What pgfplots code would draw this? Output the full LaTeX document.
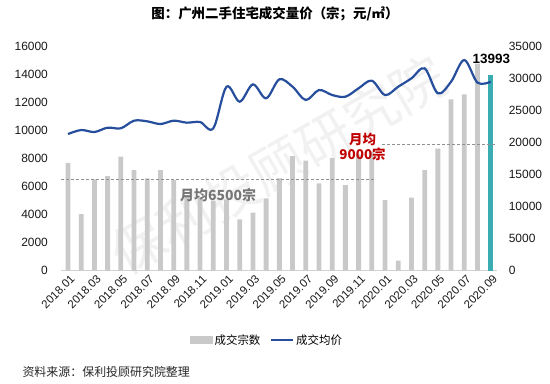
\documentclass[border=0pt]{standalone}
\usepackage{fontspec}
\setmainfont{Liberation Sans}
\newfontfamily\cjk{Noto Sans CJK SC}
\usepackage{pgfplots}
\pgfplotsset{compat=1.18}
\definecolor{barcol}{RGB}{201,201,201}
\definecolor{tealcol}{RGB}{58,172,178}
\definecolor{linecol}{RGB}{38,78,156}
\definecolor{redcol}{RGB}{192,0,0}
\definecolor{txtgray}{RGB}{118,118,118}
\begin{document}
\begin{tikzpicture}
\useasboundingbox (0,0) rectangle (550bp,-384bp);
\node[rotate=30, text=gray, opacity=0.11, font=\cjk\fontsize{54}{60}\selectfont] at (278bp,-165bp) {保利投顾研究院};
\node[font=\cjk\bfseries\fontsize{13.5}{16}\selectfont] at (275bp,-14bp) {图：广州二手住宅成交量价（宗；元/㎡）};
\node[anchor=west, font=\cjk\fontsize{12}{14}\selectfont, text=black!85] at (19bp,-372bp) {资料来源：保利投顾研究院整理};
% left axis: bars
\begin{axis}[
  at={(61.4bp,-270.7bp)}, anchor=south west,
  scale only axis, width=435.9bp, height=224bp,
  xmin=-0.5, xmax=32.5, ymin=0, ymax=16000,
  ytick={0,2000,...,16000},
  xtick={0,2,...,32},
  xticklabels={2018.01,2018.03,2018.05,2018.07,2018.09,2018.11,2019.01,2019.03,2019.05,2019.07,2019.09,2019.11,2020.01,2020.03,2020.05,2020.07,2020.09},
  axis lines*=left,
  y axis line style={draw=none},
  x axis line style={draw=black!18, line width=0.8bp},
  major tick length=0pt,
  /pgf/number format/assume math mode=true,
  /pgf/number format/1000 sep={},
  scaled y ticks=false,
  yticklabel style={font=\fontsize{12}{14}\selectfont, text=black!90, xshift=-10bp},
  xticklabel style={font=\fontsize{11.5}{13}\selectfont, text=black!90, xshift=7bp, yshift=-4bp, rotate=45, anchor=east},
  clip=false,
]
\addplot[ybar, bar width=4.8bp, bar shift=0pt, fill=barcol, draw=none] coordinates {
(0,7700) (1,4050) (2,6530) (3,6760) (4,8140) (5,7190) (6,6600) (7,7190) (8,6480)
(9,5400) (10,5200) (11,5000) (12,5100) (13,3670) (14,4140) (15,5170) (16,6600)
(17,8190) (18,7860) (19,6240) (20,8040) (21,6120) (22,8300) (23,8500) (24,5050)
(25,714) (26,5220) (27,7190) (28,8720) (29,12240) (30,12600) (31,14800)};
\addplot[ybar, bar width=4.8bp, bar shift=0pt, fill=tealcol, draw=none] coordinates {(32,13993)};
\draw[txtgray!80, dashed, dash pattern=on 3bp off 2bp, line width=0.8bp] (axis cs:-0.5,6500) -- (axis cs:23.3,6500);
\draw[txtgray!80, dashed, dash pattern=on 3bp off 2bp, line width=0.8bp] (axis cs:23.8,9000) -- (axis cs:32.5,9000);
\node[font=\cjk\bfseries\fontsize{14}{16}\selectfont, text=txtgray] at (axis cs:11.36,5407) {月均6500宗};
\node[font=\cjk\bfseries\fontsize{13.5}{15.5}\selectfont, text=redcol, align=center] at (axis cs:22.3,8836) {月均\\9000宗};
\node[font=\bfseries\fontsize{13.5}{16}\selectfont, text=black] at (axis cs:32.05,15114) {13993};
\end{axis}
% right axis: line
\begin{axis}[
  at={(61.4bp,-270.7bp)}, anchor=south west,
  scale only axis, width=435.9bp, height=224bp,
  xmin=-0.5, xmax=32.5, ymin=0, ymax=35000,
  ytick={0,5000,...,35000},
  axis x line=none,
  axis y line*=right,
  y axis line style={draw=none},
  major tick length=0pt,
  /pgf/number format/assume math mode=true,
  /pgf/number format/1000 sep={},
  scaled y ticks=false,
  yticklabel style={font=\fontsize{12}{14}\selectfont, text=black!90, xshift=8bp},
  clip=false,
  legend style={at={(0.472,-0.309)}, anchor=center, draw=none, fill=none,
    legend columns=2, font=\cjk\fontsize{11.5}{13}\selectfont,
    /tikz/every even column/.append style={column sep=8bp}},
]
\addlegendimage{legend image code/.code={\fill[barcol] (0bp,-3.5bp) rectangle (22bp,3.5bp);}}
\addlegendentry{成交宗数}
\addplot[color=linecol, line width=2.2bp, smooth, tension=0.55,
  legend image code/.code={\draw[linecol, line width=1.8bp] (0bp,0bp) -- (22bp,0bp);}] coordinates {
(0,21360) (1,21980) (2,21670) (3,22350) (4,22250) (5,23440) (6,23340) (7,22920)
(8,23440) (9,23130) (10,23230) (11,22250) (12,28750) (13,26410) (14,29110)
(15,26940) (16,29900) (17,28750) (18,26670) (19,28230) (20,27450) (21,27190)
(22,28500) (23,29690) (24,27450) (25,28750) (26,30060) (27,31620) (28,27710)
(29,29530) (30,32920) (31,29380) (32,29530)};
\addlegendentry{成交均价}
\end{axis}
\end{tikzpicture}
\end{document}
